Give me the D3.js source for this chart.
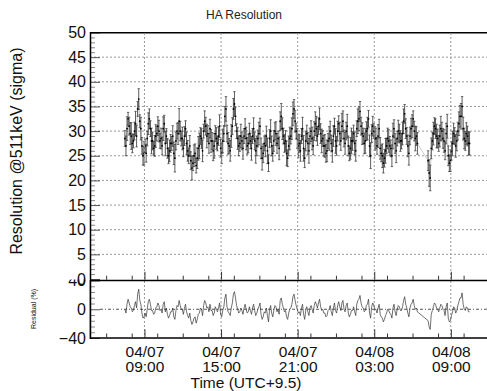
<!DOCTYPE html>
<html><head><meta charset="utf-8">
<script src="https://cdn.jsdelivr.net/npm/d3@7"></script>
<style>
html,body{margin:0;padding:0;background:#fff;}
svg{display:block;font-family:"Liberation Sans",Arial,sans-serif;}
</style></head>
<body><svg id="c" width="487" height="391"></svg>
<script>
// ---------- data ----------
const chartTitle = "HA Resolution";
const yTitle = "Resolution @511keV (sigma)";
const resTitle = "Residual (%)";
const xTitle = "Time (UTC+9.5)";
const startTime = "2020-04-07T07:28";   // first sample; one sample every 5 minutes (null = no data)
const sampleMinutes = 5;
const values = [
28.5,27.0,30.5,32.5,31.0,29.5,29.0,27.5,28.0,30.0,31.5,29.0,34.5,36.5,32.0,30.5,27.0,25.0,25.5,27.0,
25.5,28.5,31.5,32.5,30.5,28.0,28.0,26.5,27.0,29.0,29.5,31.0,30.0,28.0,28.5,27.0,30.5,31.5,27.5,29.0,
26.5,25.0,26.0,27.5,27.5,29.0,25.5,24.5,28.0,30.0,29.5,32.0,30.0,28.5,28.5,26.5,29.0,30.5,27.5,26.0,
25.0,27.0,24.0,22.5,23.5,25.0,25.5,23.0,24.5,26.5,27.0,29.0,28.5,26.0,30.0,32.0,31.0,29.0,29.5,27.5,
30.5,28.0,28.0,26.0,27.0,29.5,28.5,27.5,29.0,31.0,26.5,25.5,28.0,29.5,33.0,34.5,29.5,27.5,27.0,26.0,
29.0,31.0,34.5,35.5,33.0,30.0,28.5,27.0,27.5,29.0,28.0,26.5,29.0,30.5,28.5,27.0,27.5,29.5,28.0,26.5,
29.0,30.5,28.0,26.0,27.0,28.5,29.5,31.0,26.5,24.5,25.5,27.5,27.0,29.0,26.0,23.5,28.5,30.0,27.0,25.5,
28.0,30.0,29.5,27.5,28.5,26.5,32.0,33.0,30.5,29.0,27.5,28.0,25.5,24.5,27.0,28.5,29.0,30.5,33.5,34.5,
32.0,30.0,28.5,27.0,27.5,26.0,29.0,30.5,26.5,24.5,28.0,29.5,27.5,26.0,29.0,30.0,28.5,27.0,30.0,31.5,
30.5,29.0,31.0,32.5,29.5,28.0,28.5,27.0,27.0,25.5,26.0,28.0,28.5,30.0,27.5,26.0,29.0,31.0,28.0,27.0,
30.0,31.5,29.5,28.0,31.0,32.0,28.5,27.5,30.0,31.0,27.0,25.5,26.5,28.0,28.0,29.5,27.5,26.0,30.5,32.0,
32.5,34.0,31.0,29.5,29.0,27.5,28.0,30.0,30.5,32.5,27.0,25.0,29.5,31.0,30.0,28.5,28.5,27.0,29.0,30.5,
26.5,25.5,25.0,23.5,24.5,26.0,27.0,28.5,28.0,27.0,26.5,25.0,29.0,30.5,27.5,26.0,28.5,30.0,29.5,28.0,
28.0,29.5,32.0,33.5,30.5,29.0,27.0,25.5,29.0,30.5,31.0,32.5,30.0,28.5,29.0,27.5,null,null,null,null,
null,null,null,null,null,24.0,21.5,20.5,26.5,28.0,29.5,31.0,30.5,29.0,28.5,27.5,29.0,30.5,30.0,28.5,
28.0,26.0,29.5,31.0,25.0,23.5,24.0,26.0,27.5,29.5,29.0,27.0,28.0,30.0,31.5,33.0,33.0,35.0,30.5,28.5,
28.0,29.5,29.0,27.5,27.5];
const errors = [
1.6,2.0,2.4,1.3,1.8,2.2,2.7,1.9,1.4,1.8,2.5,2.2,1.5,2.1,1.3,2.3,1.7,1.9,2.4,1.4,
1.8,1.5,2.2,2.0,1.6,2.6,1.8,1.4,2.1,2.3,1.5,1.9,2.2,1.5,2.1,1.8,2.4,1.7,2.5,1.5,
2.0,1.6,2.2,1.8,1.4,2.1,2.3,2.8,1.8,1.6,2.2,2.6,2.0,1.5,2.3,1.7,1.9,1.6,2.3,2.1,
1.6,2.1,1.8,2.4,1.5,2.2,1.9,1.5,2.1,2.4,2.6,1.7,2.0,2.2,1.4,2.1,1.8,2.4,1.6,2.0,
1.9,2.3,1.7,2.0,2.5,1.6,2.2,1.5,1.9,2.3,1.8,2.1,2.4,1.6,2.0,2.5,1.7,2.2,1.5,2.1,
2.3,1.7,2.1,2.5,1.9,1.5,2.2,2.0,1.6,2.4,1.8,2.2,1.5,2.0,2.3,1.7,1.9,2.1,1.6,2.4,
1.5,2.2,1.8,2.5,2.0,1.7,2.3,1.6,2.1,2.4,1.9,1.5,2.2,2.0,2.6,1.7,1.8,2.3,2.0,1.6,
2.1,1.7,2.4,2.0,1.5,2.3,1.9,2.6,2.2,1.6,1.8,2.1,2.5,1.7,2.0,2.3,1.6,2.2,2.4,1.9,
2.2,1.6,2.0,2.4,1.8,2.1,1.5,2.3,2.6,1.9,2.0,1.7,2.2,2.5,1.6,2.1,2.3,1.8,1.9,2.4,
2.5,1.9,1.7,2.2,2.0,2.4,1.6,2.1,2.3,1.8,2.2,1.5,2.4,2.0,1.7,2.3,2.1,1.6,2.5,1.9,
2.0,1.6,2.3,1.9,2.6,2.1,1.7,2.2,1.8,2.4,2.0,1.5,2.2,2.6,1.9,1.7,2.3,2.1,1.6,2.5,
2.4,2.0,1.8,2.2,1.6,2.1,2.5,1.9,2.3,1.7,2.2,2.6,1.8,2.0,1.5,2.4,2.1,1.7,2.3,1.9,
2.2,1.7,2.4,2.0,1.8,2.5,1.6,2.1,2.3,1.9,1.7,2.2,2.6,1.8,2.0,2.4,1.5,2.2,1.9,2.1,
1.6,2.3,2.5,1.9,2.0,1.7,2.2,2.4,1.8,2.1,2.3,1.6,2.0,2.5,1.9,2.2,1.8,2.0,2.1,1.7,
1.9,2.0,2.2,1.8,2.4,2.0,2.7,2.6,2.1,1.8,2.3,1.7,2.0,2.4,1.9,1.6,2.2,2.5,1.8,2.0,
2.3,1.8,2.1,2.4,2.0,1.7,2.2,1.9,2.5,2.1,1.7,2.3,2.0,1.8,2.4,2.2,2.6,2.0,2.3,2.1,
1.9,2.2,2.0,2.4,2.3];
const xTickTimes = ["2020-04-07T09:00","2020-04-07T15:00","2020-04-07T21:00","2020-04-08T03:00","2020-04-08T09:00"];
const xDomain = ["2020-04-07T04:44","2020-04-08T11:50"];
const yTicks = [0,5,10,15,20,25,30,35,40,45,50];
const resTicks = [-40,0,40];

// ---------- setup ----------
const parse = d3.utcParse("%Y-%m-%dT%H:%M");
const t0 = parse(startTime);
const allPts = values.map((v,i)=>({t:new Date(t0.getTime() + i*sampleMinutes*60000), v, e:errors[i]}));
const pts = allPts.filter(d=>d.v!==null);
const mean = d3.mean(pts, d=>d.v);
pts.forEach(d=>{ d.r = (d.v-mean)/mean*100; });

const svg = d3.select("#c");
const X0 = 90, X1 = 487;
const x = d3.scaleUtc().domain(xDomain.map(parse)).range([X0, X1]);
const y = d3.scaleLinear().domain([0,50]).range([279, 32.5]);
const yr = d3.scaleLinear().domain([-40,40]).range([338, 280.5]);
const tickT = xTickTimes.map(parse);
const FONT = "'Liberation Sans',Arial,sans-serif";

// ---------- title ----------
svg.append("text").attr("x",244).attr("y",18.5).attr("text-anchor","middle")
  .attr("font-size",12).attr("fill","#222").text(chartTitle);

// ---------- top pad grid ----------
const topG = svg.append("g");
topG.selectAll(".hg").data(yTicks.filter(d=>d>0 && d<50)).join("line")
  .attr("x1",X0).attr("x2",X1).attr("y1",d=>y(d)).attr("y2",d=>y(d))
  .attr("stroke","#999").attr("stroke-width",1).attr("stroke-dasharray","2,2");
svg.selectAll(".vg").data(tickT).join("line")
  .attr("x1",d=>x(d)).attr("x2",d=>x(d)).attr("y1",33).attr("y2",338)
  .attr("stroke","#999").attr("stroke-width",1).attr("stroke-dasharray","2,2");

// top y axis (ticks inward)
const yMinor = d3.range(0,51,1).filter(d=>d%5!==0);
topG.append("g").attr("transform",`translate(${X0},0)`)
  .call(d3.axisRight(y).tickValues(yMinor).tickSize(5).tickFormat(""))
  .call(g=>{g.select(".domain").remove(); g.selectAll("line").attr("stroke","#888");});
topG.append("g").attr("transform",`translate(${X0},0)`)
  .call(d3.axisRight(y).tickValues(yTicks).tickSize(10).tickFormat(""))
  .call(g=>{g.select(".domain").remove(); g.selectAll("line").attr("stroke","#555");});
topG.append("g").attr("transform",`translate(${X0},0)`)
  .call(d3.axisLeft(y).tickValues(yTicks).tickSize(0).tickPadding(4))
  .call(g=>{g.select(".domain").remove();
    g.selectAll("text").attr("font-size",16).attr("fill","#111").attr("font-family",FONT);});
// frame top and left
topG.append("line").attr("x1",X0).attr("x2",X1).attr("y1",32.75).attr("y2",32.75)
  .attr("stroke","#000").attr("stroke-width",1.5);
topG.append("line").attr("x1",X0+0.5).attr("x2",X0+0.5).attr("y1",32).attr("y2",339)
  .attr("stroke","#000").attr("stroke-width",1.5);

// x ticks
const minorT = d3.utcHour.every(2).range(x.domain()[0], x.domain()[1]);
function xTicksAt(yy){
  svg.append("g").attr("transform",`translate(0,${yy})`)
    .call(d3.axisTop(x).tickValues(minorT).tickSize(4).tickFormat(""))
    .call(g=>{g.select(".domain").remove(); g.selectAll("line").attr("stroke","#333");});
  svg.append("g").attr("transform",`translate(0,${yy})`)
    .call(d3.axisTop(x).tickValues(tickT).tickSize(8).tickFormat(""))
    .call(g=>{g.select(".domain").remove(); g.selectAll("line").attr("stroke","#333");});
}

// data: connecting line, error bars, markers
topG.append("path").datum(pts)
  .attr("d", d3.line().x(d=>x(d.t)).y(d=>y(d.v)))
  .attr("fill","none").attr("stroke","#999").attr("stroke-width",0.5);
const eb = topG.append("g").attr("stroke","#333").attr("stroke-width",0.8);
eb.selectAll(".eb").data(pts).join("line")
  .attr("x1",d=>x(d.t)).attr("x2",d=>x(d.t))
  .attr("y1",d=>y(d.v-d.e)).attr("y2",d=>y(d.v+d.e));
eb.selectAll(".c1").data(pts).join("line")
  .attr("x1",d=>x(d.t)-1.2).attr("x2",d=>x(d.t)+1.2)
  .attr("y1",d=>y(d.v-d.e)).attr("y2",d=>y(d.v-d.e)).attr("stroke-width",0.7);
eb.selectAll(".c2").data(pts).join("line")
  .attr("x1",d=>x(d.t)-1.2).attr("x2",d=>x(d.t)+1.2)
  .attr("y1",d=>y(d.v+d.e)).attr("y2",d=>y(d.v+d.e)).attr("stroke-width",0.7);
topG.selectAll(".m").data(pts).join("circle")
  .attr("cx",d=>x(d.t)).attr("cy",d=>y(d.v)).attr("r",0.9).attr("fill","#000");

// ---------- residual pad ----------
svg.append("rect").attr("x",X0+1).attr("y",280.5).attr("width",X1-X0).attr("height",57.5).attr("fill","#fff");
svg.selectAll(".vg2").data(tickT).join("line")
  .attr("x1",d=>x(d)).attr("x2",d=>x(d)).attr("y1",281).attr("y2",338)
  .attr("stroke","#999").attr("stroke-width",1).attr("stroke-dasharray","2,2");
const defs = svg.append("defs");
defs.append("clipPath").attr("id","rclip").append("rect")
  .attr("x",0).attr("y",279.5).attr("width",487).attr("height",120);
const res = svg.append("g");
const resL = svg.append("g").attr("clip-path","url(#rclip)");
const rMinor = d3.range(-40,41,8).filter(d=>d!==-40 && d!==0 && d!==40);
res.append("g").attr("transform",`translate(${X0},0)`)
  .call(d3.axisRight(yr).tickValues(rMinor).tickSize(5).tickFormat(""))
  .call(g=>{g.select(".domain").remove(); g.selectAll("line").attr("stroke","#888");});
res.append("g").attr("transform",`translate(${X0},0)`)
  .call(d3.axisRight(yr).tickValues(resTicks).tickSize(10).tickFormat(""))
  .call(g=>{g.select(".domain").remove(); g.selectAll("line").attr("stroke","#555");});
resL.append("g").attr("transform",`translate(${X0},0)`)
  .call(d3.axisLeft(yr).tickValues(resTicks).tickSize(0).tickPadding(4).tickFormat(d=>d<0?"\u2212"+(-d):d))
  .call(g=>{g.select(".domain").remove();
    g.selectAll("text").attr("font-size",16).attr("fill","#111").attr("font-family",FONT);});
// zero (fit) line
res.append("line").attr("x1",X0+10).attr("x2",X1).attr("y1",yr(0)).attr("y2",yr(0))
  .attr("stroke","#555").attr("stroke-width",1).attr("stroke-dasharray","3,2,1,2");
res.append("path").datum(pts)
  .attr("d", d3.line().x(d=>x(d.t)).y(d=>yr(d.r)))
  .attr("fill","none").attr("stroke","#333").attr("stroke-width",0.7);
res.append("line").attr("x1",X0).attr("x2",X1).attr("y1",280.5).attr("y2",280.5)
  .attr("stroke","#000").attr("stroke-width",1.5);
res.append("line").attr("x1",X0).attr("x2",X1).attr("y1",338).attr("y2",338)
  .attr("stroke","#000").attr("stroke-width",1.5);
res.append("line").attr("x1",X0+0.5).attr("x2",X0+0.5).attr("y1",280).attr("y2",339)
  .attr("stroke","#000").attr("stroke-width",1.5);
xTicksAt(279.75);
xTicksAt(337.5);

// x labels
const fmtD = d3.utcFormat("%m/%d"), fmtH = d3.utcFormat("%H:%M");
const xl = svg.append("g").attr("transform","translate(0,338)")
  .call(d3.axisBottom(x).tickValues(tickT).tickSize(0).tickFormat(""))
  .call(g=>g.select(".domain").remove());
xl.selectAll(".tick").each(function(d){
  const t = d3.select(this).append("text").attr("text-anchor","middle")
    .attr("font-size",15.5).attr("fill","#111").attr("font-family",FONT);
  t.append("tspan").attr("x",0).attr("y",18.5).text(fmtD(d));
  t.append("tspan").attr("x",0).attr("y",34).text(fmtH(d));
});

// axis titles
svg.append("text").attr("x",246).attr("y",387.5).attr("text-anchor","middle")
  .attr("font-size",15.5).attr("fill","#111").text(xTitle);
svg.append("text").attr("transform","translate(21.5,151) rotate(-90)")
  .attr("text-anchor","middle").attr("font-size",16).attr("fill","#111").text(yTitle);
svg.append("text").attr("transform","translate(36,309) rotate(-90)")
  .attr("text-anchor","middle").attr("font-size",7).attr("fill","#111").text(resTitle);
</script></body></html>
